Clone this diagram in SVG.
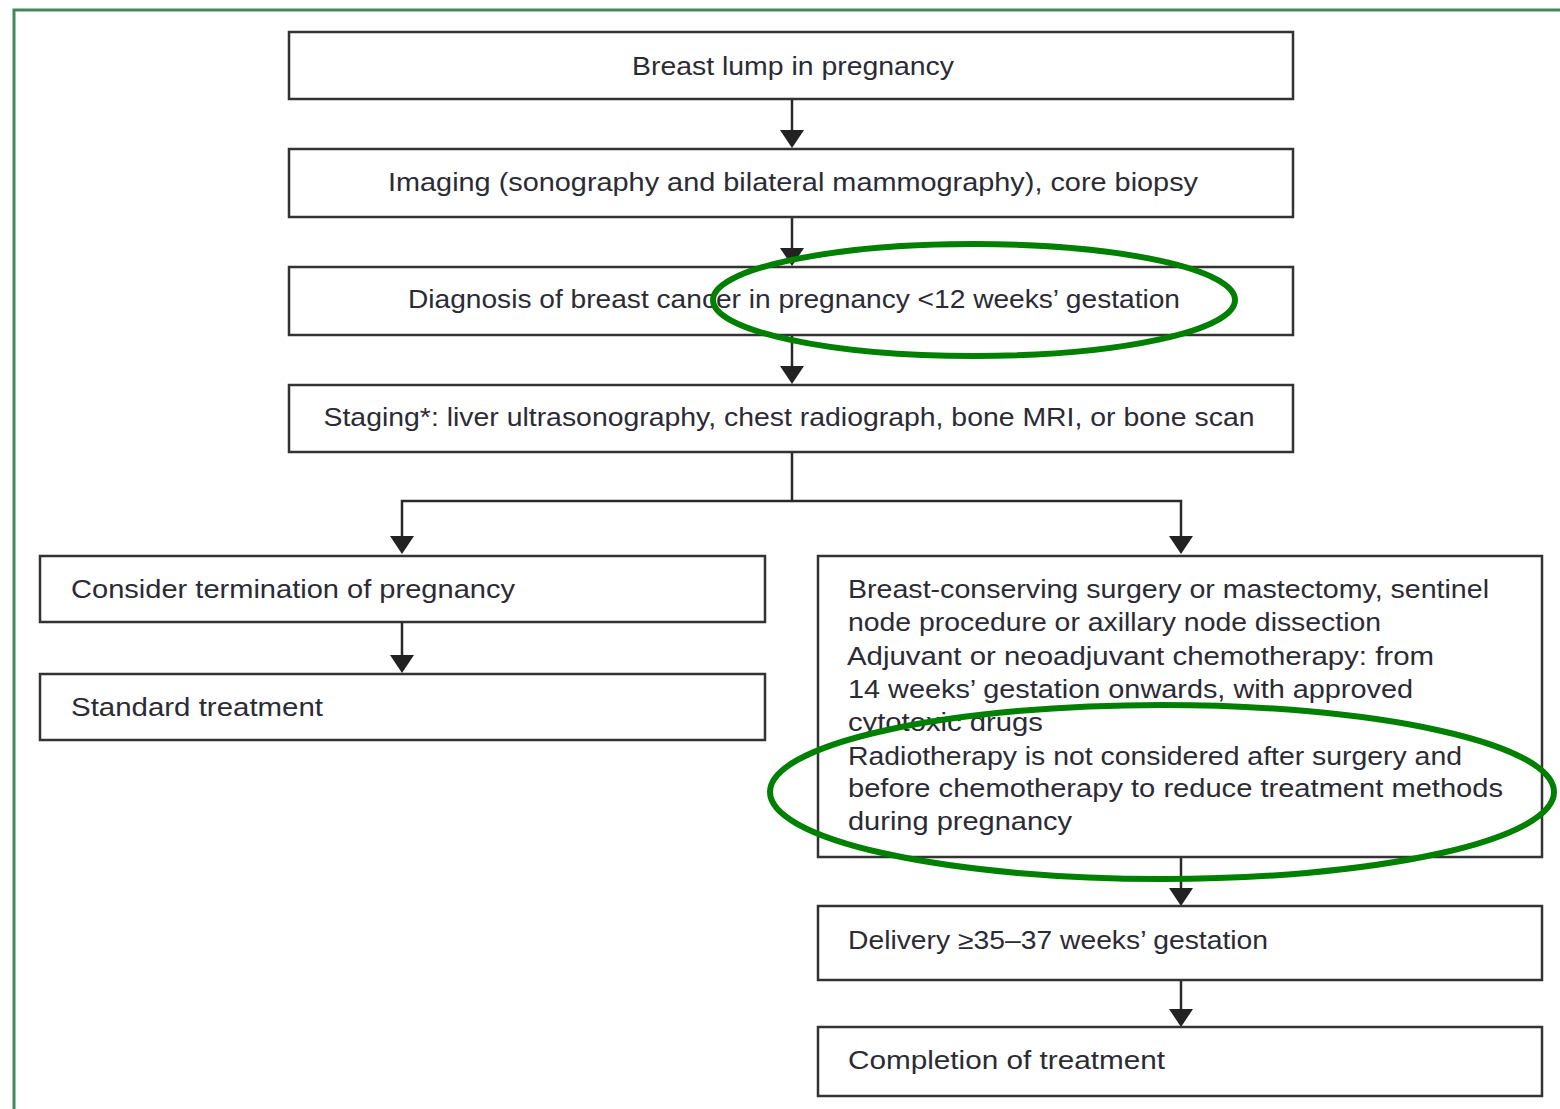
<svg xmlns="http://www.w3.org/2000/svg" width="1560" height="1109" viewBox="0 0 1560 1109">
<style>
.box{fill:#fff;stroke:#333;stroke-width:2.5}
.t{font-family:"Liberation Sans",Arial,sans-serif;font-size:25px;fill:#2b2b35}
.c{text-anchor:middle}
.ln{fill:none;stroke:#2a2a2a;stroke-width:2.5}
.hl{fill:none;stroke:#008000;stroke-width:6}
</style>
<defs>
<marker id="ah" markerUnits="userSpaceOnUse" markerWidth="26" markerHeight="20" refX="13" refY="19" orient="auto-start-reverse" viewBox="0 0 26 20">
<path d="M1,1 L25,1 L13,19 Z" fill="#222"/>
</marker>
</defs>
<rect width="1560" height="1109" fill="#fff"/>
<path d="M14,1109 V10 H1560" fill="none" stroke="#3f8a5c" stroke-width="3"/>
<g id="connectors">
<line class="ln" x1="792" y1="99" x2="792" y2="130"/>
<path d="M780,130 L804,130 L792,148 Z" fill="#222"/>
<line class="ln" x1="792" y1="217" x2="792" y2="248"/>
<path d="M780,248 L804,248 L792,266 Z" fill="#222"/>
<line class="ln" x1="792" y1="335" x2="792" y2="366"/>
<path d="M780,366 L804,366 L792,384 Z" fill="#222"/>
<path class="ln" d="M792,452 V501 M402,538 V501 H1181 V538"/>
<path d="M390,536 L414,536 L402,554 Z" fill="#222"/>
<path d="M1169,536 L1193,536 L1181,554 Z" fill="#222"/>
<line class="ln" x1="402" y1="622" x2="402" y2="656"/>
<path d="M390,655 L414,655 L402,673 Z" fill="#222"/>
<line class="ln" x1="1181" y1="857" x2="1181" y2="889"/>
<path d="M1169,888 L1193,888 L1181,906 Z" fill="#222"/>
<line class="ln" x1="1181" y1="980" x2="1181" y2="1010"/>
<path d="M1169,1009 L1193,1009 L1181,1027 Z" fill="#222"/>
</g>
<g id="n1"><rect class="box" x="289" y="32" width="1004" height="67"/><text class="t c" x="793" y="75" textLength="322" lengthAdjust="spacingAndGlyphs">Breast lump in pregnancy</text></g>
<g id="n2"><rect class="box" x="289" y="149" width="1004" height="68"/><text class="t c" x="793" y="191" textLength="810" lengthAdjust="spacingAndGlyphs">Imaging (sonography and bilateral mammography), core biopsy</text></g>
<g id="n3"><rect class="box" x="289" y="267" width="1004" height="68"/><text class="t c" x="794" y="308" textLength="772" lengthAdjust="spacingAndGlyphs">Diagnosis of breast cancer in pregnancy &lt;12 weeks’ gestation</text></g>
<g id="n4"><rect class="box" x="289" y="385" width="1004" height="67"/><text class="t c" x="789" y="426" textLength="931" lengthAdjust="spacingAndGlyphs">Staging*: liver ultrasonography, chest radiograph, bone MRI, or bone scan</text></g>
<g id="n5"><rect class="box" x="40" y="556" width="725" height="66"/><text class="t" x="71" y="598" textLength="444" lengthAdjust="spacingAndGlyphs">Consider termination of pregnancy</text></g>
<g id="n6"><rect class="box" x="40" y="674" width="725" height="66"/><text class="t" x="71" y="716" textLength="252" lengthAdjust="spacingAndGlyphs">Standard treatment</text></g>
<g id="n7"><rect class="box" x="818" y="556" width="724" height="301"/>
<text class="t" x="848" y="598" textLength="641" lengthAdjust="spacingAndGlyphs">Breast-conserving surgery or mastectomy, sentinel</text>
<text class="t" x="848" y="631" textLength="533" lengthAdjust="spacingAndGlyphs">node procedure or axillary node dissection</text>
<text class="t" x="847" y="665" textLength="587" lengthAdjust="spacingAndGlyphs">Adjuvant or neoadjuvant chemotherapy: from</text>
<text class="t" x="848" y="698" textLength="565" lengthAdjust="spacingAndGlyphs">14 weeks’ gestation onwards, with approved</text>
<text class="t" x="848" y="731" textLength="195" lengthAdjust="spacingAndGlyphs">cytotoxic drugs</text>
<text class="t" x="848" y="765" textLength="614" lengthAdjust="spacingAndGlyphs">Radiotherapy is not considered after surgery and</text>
<text class="t" x="848" y="797" textLength="655" lengthAdjust="spacingAndGlyphs">before chemotherapy to reduce treatment methods</text>
<text class="t" x="848" y="830" textLength="224" lengthAdjust="spacingAndGlyphs">during pregnancy</text>
</g>
<g id="n8"><rect class="box" x="818" y="906" width="724" height="74"/><text class="t" x="848" y="949" textLength="420" lengthAdjust="spacingAndGlyphs">Delivery ≥35–37 weeks’ gestation</text></g>
<g id="n9"><rect class="box" x="818" y="1027" width="724" height="69"/><text class="t" x="848" y="1069" textLength="317" lengthAdjust="spacingAndGlyphs">Completion of treatment</text></g>
<g id="highlights">
<ellipse class="hl" cx="974" cy="300" rx="261" ry="56"/>
<ellipse class="hl" cx="1162" cy="792" rx="392" ry="87"/>
</g>
</svg>
